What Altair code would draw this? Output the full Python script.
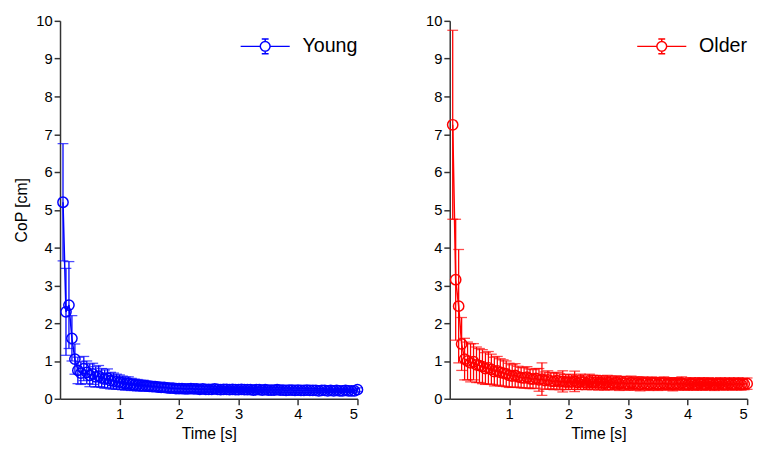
import altair as alt
import pandas as pd

time = [round(0.05 * i, 2) for i in range(1, 101)]

young_mean = [
    5.20, 2.30, 2.48, 1.60, 1.05, 0.75, 0.68, 0.80, 0.70, 0.62,
    0.66, 0.58, 0.60, 0.55, 0.52, 0.54, 0.48, 0.47, 0.45, 0.44,
    0.42, 0.40, 0.41, 0.38, 0.37, 0.36, 0.35, 0.35, 0.34, 0.33,
    0.32, 0.32, 0.31, 0.30, 0.30, 0.29, 0.28, 0.28, 0.27, 0.27,
    0.27, 0.26, 0.26, 0.27, 0.26, 0.26, 0.25, 0.26, 0.25, 0.25,
    0.25, 0.26, 0.25, 0.24, 0.25, 0.25, 0.24, 0.25, 0.24, 0.24,
    0.25, 0.24, 0.24, 0.24, 0.23, 0.24, 0.24, 0.23, 0.24, 0.23,
    0.23, 0.23, 0.24, 0.23, 0.23, 0.22, 0.23, 0.23, 0.22, 0.23,
    0.22, 0.22, 0.23, 0.22, 0.22, 0.22, 0.21, 0.22, 0.22, 0.21,
    0.22, 0.21, 0.22, 0.21, 0.21, 0.22, 0.21, 0.21, 0.21, 0.24,
]
young_err = [
    1.55, 1.15, 1.15, 0.60, 0.40, 0.35, 0.30, 0.32, 0.30, 0.30,
    0.28, 0.27, 0.28, 0.25, 0.24, 0.25, 0.22, 0.21, 0.20, 0.19,
    0.18, 0.17, 0.17, 0.16, 0.15, 0.15, 0.14, 0.14, 0.13, 0.13,
    0.12, 0.12, 0.12, 0.11, 0.11, 0.10, 0.10, 0.10, 0.09, 0.09,
    0.09, 0.08, 0.08, 0.09, 0.08, 0.08, 0.08, 0.08, 0.08, 0.07,
    0.08, 0.07, 0.07, 0.08, 0.07, 0.07, 0.07, 0.07, 0.07, 0.07,
    0.07, 0.07, 0.07, 0.06, 0.07, 0.07, 0.06, 0.07, 0.06, 0.06,
    0.06, 0.07, 0.06, 0.06, 0.06, 0.06, 0.06, 0.06, 0.06, 0.06,
    0.06, 0.06, 0.06, 0.06, 0.05, 0.06, 0.06, 0.05, 0.06, 0.05,
    0.06, 0.05, 0.05, 0.06, 0.05, 0.05, 0.05, 0.05, 0.05, 0.05,
]
older_mean = [
    7.25, 3.15, 2.45, 1.45, 1.05, 1.00, 0.95, 0.98, 0.90, 0.88,
    0.85, 0.80, 0.82, 0.78, 0.72, 0.74, 0.70, 0.68, 0.66, 0.62,
    0.60, 0.62, 0.58, 0.56, 0.55, 0.57, 0.53, 0.52, 0.54, 0.50,
    0.52, 0.48, 0.50, 0.47, 0.46, 0.48, 0.45, 0.46, 0.44, 0.45,
    0.44, 0.46, 0.43, 0.45, 0.44, 0.42, 0.45, 0.43, 0.44, 0.42,
    0.43, 0.41, 0.43, 0.42, 0.41, 0.43, 0.40, 0.42, 0.41, 0.40,
    0.42, 0.40, 0.41, 0.39, 0.41, 0.40, 0.39, 0.41, 0.40, 0.39,
    0.40, 0.41, 0.39, 0.40, 0.38, 0.40, 0.39, 0.41, 0.39, 0.38,
    0.40, 0.39, 0.38, 0.40, 0.39, 0.38, 0.40, 0.39, 0.38, 0.39,
    0.40, 0.38, 0.39, 0.40, 0.38, 0.39, 0.40, 0.38, 0.39, 0.40,
]
older_err = [
    2.50, 1.60, 1.50, 0.70, 0.55, 0.50, 0.50, 0.48, 0.47, 0.45,
    0.45, 0.42, 0.43, 0.40, 0.38, 0.38, 0.36, 0.35, 0.34, 0.32,
    0.30, 0.31, 0.28, 0.27, 0.27, 0.28, 0.26, 0.25, 0.26, 0.30,
    0.43, 0.23, 0.24, 0.22, 0.22, 0.22, 0.21, 0.28, 0.20, 0.20,
    0.19, 0.27, 0.19, 0.20, 0.19, 0.18, 0.20, 0.19, 0.18, 0.19,
    0.18, 0.18, 0.19, 0.18, 0.17, 0.18, 0.18, 0.17, 0.18, 0.17,
    0.18, 0.17, 0.17, 0.18, 0.17, 0.16, 0.17, 0.17, 0.16, 0.17,
    0.16, 0.17, 0.16, 0.16, 0.17, 0.16, 0.16, 0.17, 0.16, 0.15,
    0.16, 0.16, 0.15, 0.16, 0.16, 0.15, 0.16, 0.15, 0.16, 0.15,
    0.16, 0.15, 0.15, 0.16, 0.15, 0.15, 0.16, 0.15, 0.15, 0.15,
]

groups = ["Young", "Older"]
colors = ["#0000ff", "#ff0000"]

legend_path = (
    "M-1,0L-0.2,0M0.2,0L1,0"
    "M0,-0.3L0,-0.2M0,0.2L0,0.3"
    "M-0.14,-0.3L0.14,-0.3M-0.14,0.3L0.14,0.3"
    "M-0.2,0A0.2,0.2 0 1,0 0.2,0A0.2,0.2 0 1,0 -0.2,0"
)

FONT = "Liberation Sans"


def panel(name, color, mean, err, show_title):
    df = pd.DataFrame({"t": time, "m": mean, "e": err})
    df["lo"] = df["m"] - df["e"]
    df["hi"] = df["m"] + df["e"]
    df["g"] = name
    x = alt.X(
        "t:Q",
        scale=alt.Scale(domain=[0, 5], nice=False, zero=False),
        axis=alt.Axis(values=[1, 2, 3, 4, 5], title="Time [s]"),
    )
    yax = alt.Axis(values=list(range(11)), title="CoP [cm]" if show_title else None)
    ysc = alt.Scale(domain=[0, 10], nice=False)
    base = alt.Chart(df)
    rules = base.mark_rule(color=color, strokeWidth=1.3).encode(
        x=x, y=alt.Y("lo:Q", scale=ysc, axis=yax), y2="hi:Q"
    )
    cap_hi = base.mark_tick(color=color, thickness=1.3, size=11, orient="horizontal").encode(
        x=x, y=alt.Y("hi:Q", scale=ysc, axis=yax)
    )
    cap_lo = base.mark_tick(color=color, thickness=1.3, size=11, orient="horizontal").encode(
        x=x, y=alt.Y("lo:Q", scale=ysc, axis=yax)
    )
    line = base.mark_line(color=color, strokeWidth=1.5).encode(
        x=x, y=alt.Y("m:Q", scale=ysc, axis=yax)
    )
    pts = base.mark_point(filled=False, size=110, strokeWidth=1.5, opacity=1).encode(
        x=x,
        y=alt.Y("m:Q", scale=ysc, axis=yax),
        color=alt.Color(
            "g:N",
            scale=alt.Scale(domain=[name], range=[color]),
            legend=alt.Legend(
                title=None,
                orient="top-right",
                offset=0,
                padding=0,
                symbolType=legend_path,
                symbolSize=2500,
                symbolStrokeWidth=1.5,
                symbolFillColor="transparent",
                labelFontSize=20,
                labelFont=FONT,
                labelColor="#000000",
                labelOffset=12,
            ),
        ),
    )
    return alt.layer(rules, cap_hi, cap_lo, line, pts).properties(width=303, height=385)


left = panel(groups[0], colors[0], young_mean, young_err, True)
right = panel(groups[1], colors[1], older_mean, older_err, False)

chart = (
    alt.hconcat(left, right, spacing=60)
    .resolve_scale(color="independent")
    .resolve_legend(color="independent")
    .properties(padding={"left": 6, "top": 2, "right": 0, "bottom": 0})
    .configure_view(stroke=None)
    .configure_axis(
        labelFont=FONT,
        titleFont=FONT,
        labelFontSize=15,
        titleFontSize=16,
        titleFontWeight="normal",
        labelColor="#000000",
        titleColor="#000000",
        domainColor="#333333",
        tickColor="#333333",
        domainWidth=1.5,
        tickWidth=1.5,
        tickSize=6,
        grid=False,
        labelPadding=2,
    )
    .configure_axisY(titlePadding=6)
    .configure_axisX(titlePadding=4)
)

chart.save("out.html", embed_options={"renderer": "svg", "actions": False})
